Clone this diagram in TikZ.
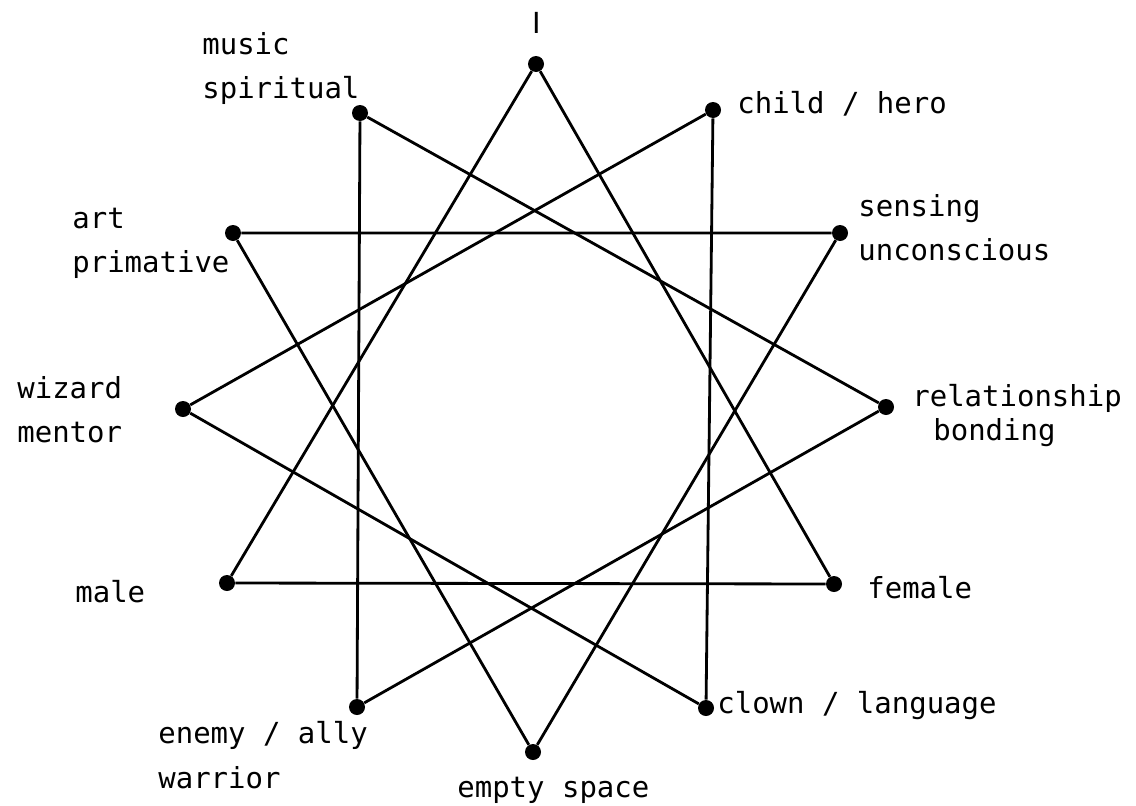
\documentclass[tikz,border=0pt]{standalone}
\usepackage{fontspec}
\setmonofont{DejaVu Sans Mono}
\newfontfamily\barefont{DejaVu Sans}
\begin{document}
\begin{tikzpicture}[x=0.02cm, y=-0.02cm,
    dot/.style={circle, fill, inner sep=0pt, minimum size=0.32cm},
    lbl/.style={anchor=base west, inner sep=0pt, align=left, font=\ttfamily\fontsize{16.5}{24.5}\selectfont},
    edge/.style={line width=1.6pt}]
    \useasboundingbox (0,0) rectangle (1136,805);

    \node[dot] (I) at (536,64) {};
    \node[dot] (child) at (713,110) {};
    \node[dot] (sensing) at (840,233) {};
    \node[dot] (relation) at (886,407) {};
    \node[dot] (female) at (834,584) {};
    \node[dot] (clown) at (706,708) {};
    \node[dot] (empty) at (533,752) {};
    \node[dot] (enemy) at (357,707) {};
    \node[dot] (male) at (227,583) {};
    \node[dot] (wizard) at (183,409) {};
    \node[dot] (art) at (233,233) {};
    \node[dot] (music) at (360,113) {};

    % labels (multi-line ones sit on the baseline of their last line)
    \node[lbl, anchor=base] (tI) at (537,33) {\barefont I};
    \node[lbl] (tchild) at (737,113) {child / hero};
    \node[lbl] (tsensing) at (858,260) {sensing\\unconscious};
    \node[lbl] (trelation) at (912,440) {relationship\\[-5.5pt]\hspace{0.42cm}bonding};
    \node[lbl] (tfemale) at (867,598) {female};
    \node[lbl] (tclown) at (717,713) {clown / language};
    \node[lbl] (tempty) at (457,797) {empty space};
    \node[lbl] (tenemy) at (158,788) {enemy / ally\\[1pt]warrior};
    \node[lbl] (tmale) at (75,602) {male};
    \node[lbl] (twizard) at (17,442) {wizard\\mentor};
    \node[lbl] (tart) at (72,272) {art\\primative};
    \node[lbl] (tmusic) at (202,98) {music\\spiritual};

    % four triangles
    \draw[edge] (I) -- (female) -- (male) -- (I);
    \draw[edge] (child) -- (clown) -- (wizard) -- (child);
    \draw[edge] (sensing) -- (empty) -- (art) -- (sensing);
    \draw[edge] (relation) -- (enemy) -- (music) -- (relation);
\end{tikzpicture}
\end{document}
